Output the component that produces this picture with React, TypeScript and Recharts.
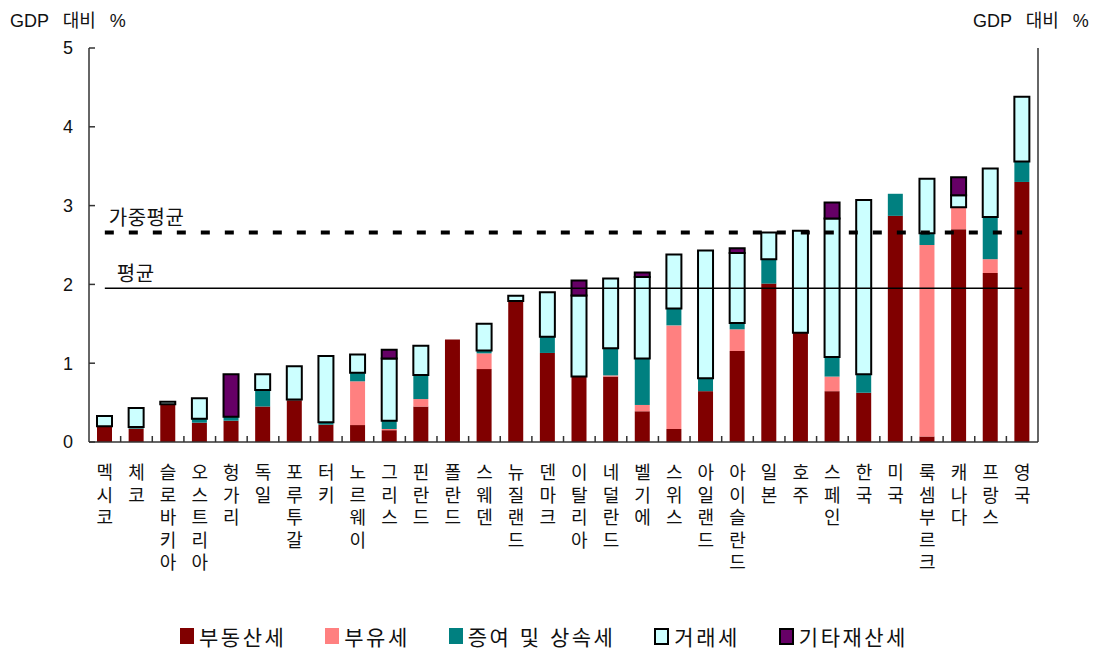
import { Bar, BarChart, Legend, ReferenceLine, XAxis, YAxis } from "recharts";

const countries = [
  "멕시코", "체코", "슬로바키아", "오스트리아", "헝가리", "독일", "포루투갈", "터키",
  "노르웨이", "그리스", "핀란드", "폴란드", "스웨덴", "뉴질랜드", "덴마크", "이탈리아",
  "네덜란드", "벨기에", "스위스", "아일랜드", "아이슬란드", "일본", "호주", "스페인",
  "한국", "미국", "룩셈부르크", "캐나다", "프랑스", "영국",
];

// 부동산세
const realEstate = [
  0.2, 0.17, 0.48, 0.245, 0.27, 0.45, 0.53, 0.22, 0.215, 0.15, 0.45, 1.3, 0.925, 1.79, 1.13,
  0.83, 0.83, 0.39, 0.165, 0.645, 1.155, 2.01, 1.385, 0.645, 0.625, 2.87, 0.07, 2.7, 2.145, 3.3,
];
// 부유세
const netWealth = [
  0, 0, 0, 0, 0, 0, 0, 0, 0.555, 0.015, 0.095, 0, 0.2, 0, 0,
  0, 0.015, 0.08, 1.315, 0, 0.275, 0, 0, 0.185, 0, 0, 2.43, 0.28, 0.175, 0,
];
// 증여 및 상속세
const inheritance = [
  0, 0.02, 0, 0.05, 0.05, 0.21, 0.01, 0.03, 0.11, 0.105, 0.305, 0, 0.035, 0, 0.205,
  0, 0.345, 0.59, 0.215, 0.165, 0.08, 0.31, 0, 0.25, 0.235, 0.28, 0.15, 0, 0.535, 0.26,
];
// 거래세
const transaction = [
  0.13, 0.24, 0.03, 0.26, 0, 0.2, 0.42, 0.84, 0.23, 0.79, 0.37, 0, 0.34, 0.065, 0.565,
  1.03, 0.885, 1.035, 0.685, 1.62, 0.89, 0.34, 1.295, 1.755, 2.21, 0, 0.69, 0.15, 0.615, 0.82,
];
// 기타재산세
const otherProperty = [
  0, 0, 0, 0, 0.54, 0, 0, 0, 0, 0.11, 0, 0, 0, 0, 0,
  0.19, 0, 0.055, 0, 0, 0.06, 0, 0, 0.205, 0, 0, 0, 0.23, 0, 0,
];

const weightedAvg = 2.66;
const simpleAvg = 1.95;
const yTicks = [0, 1, 2, 3, 4, 5];

const series = [
  { key: "realEstate", name: "부동산세", color: "#800000", outline: false },
  { key: "netWealth", name: "부유세", color: "#ff8080", outline: false },
  { key: "inheritance", name: "증여 및 상속세", color: "#008080", outline: false },
  { key: "transaction", name: "거래세", color: "#ccffff", outline: true },
  { key: "otherProperty", name: "기타재산세", color: "#660066", outline: true },
];

const data = countries.map((c, i) => ({
  country: c,
  realEstate: realEstate[i],
  netWealth: netWealth[i],
  inheritance: inheritance[i],
  transaction: transaction[i],
  otherProperty: otherProperty[i],
}));

const FONT = "'Liberation Sans', 'Noto Sans CJK KR', sans-serif";
const HALF_BAND = 15.8;

function CountryTick(props: any) {
  const { x, y, payload, index } = props;
  const chars = Array.from(String(payload.value));
  return (
    <g>
      {index > 0 && (
        <line x1={x - HALF_BAND} x2={x - HALF_BAND} y1={y} y2={y - 6} stroke="#333" strokeWidth={1.5} />
      )}
      <text x={x} y={y} textAnchor="middle" fontSize={18} fill="#111" fontFamily={FONT}>
        {chars.map((ch, k) => (
          <tspan key={k} x={x} dy={k === 0 ? 37 : 22.5}>
            {ch}
          </tspan>
        ))}
      </text>
    </g>
  );
}

function AvgLabel(props: any) {
  const { viewBox, text, dx } = props;
  return (
    <text x={viewBox.x + dx} y={viewBox.y - 7} fontSize={20} letterSpacing={0.5} fill="#111" fontFamily={FONT}>
      {text}
    </text>
  );
}

function LegendBox() {
  return (
    <div
      style={{
        display: "flex",
        paddingLeft: 151,
        gap: 39,
        fontFamily: FONT,
        fontSize: 21,
        letterSpacing: 2.5,
        color: "#111",
        height: 30,
        alignItems: "center",
      }}
    >
      {series.map((s) => (
        <div key={s.key} style={{ display: "flex", alignItems: "center" }}>
          <span
            style={{
              display: "inline-block",
              width: s.outline ? 11 : 14,
              height: s.outline ? 13 : 16,
              background: s.color,
              border: s.outline ? "2px solid #000" : "none",
              marginRight: 5,
            }}
          />
          {s.name}
        </div>
      ))}
    </div>
  );
}

const unitStyle = {
  position: "absolute" as const,
  top: 6,
  fontFamily: FONT,
  fontSize: 18,
  color: "#111",
  wordSpacing: 9,
};

export default function App() {
  return (
    <div style={{ position: "relative", width: 1112, height: 655, background: "#fff" }}>
      <style>{`body{margin:0}`}</style>
      <div style={{ ...unitStyle, left: 10 }}>GDP 대비 %</div>
      <div style={{ ...unitStyle, left: 973 }}>GDP 대비 %</div>
      <BarChart
        width={1112}
        height={655}
        data={data}
        margin={{ top: 48, right: 14, left: 29, bottom: 4 }}
        barSize={15}
      >
        <XAxis
          dataKey="country"
          interval={0}
          height={179}
          tickLine={false}
          tickSize={0}
          tickMargin={0}
          tick={<CountryTick />}
          stroke="#333"
          strokeWidth={1.5}
        />
        <YAxis
          yAxisId="left"
          domain={[0, 5]}
          ticks={yTicks}
          width={60}
          tickSize={-6}
          tickMargin={22}
          stroke="#333"
          strokeWidth={1.5}
          tick={{ fill: "#111", fontSize: 18, fontFamily: FONT }}
        />
        <YAxis
          yAxisId="right"
          orientation="right"
          domain={[0, 5]}
          ticks={yTicks}
          width={60}
          tickSize={-6}
          tickMargin={24}
          stroke="#333"
          strokeWidth={1.5}
          tick={{ fill: "#111", fontSize: 18, fontFamily: FONT, textAnchor: "start" }}
        />
        {series.map((s) => (
          <Bar
            key={s.key}
            yAxisId="left"
            dataKey={s.key}
            name={s.name}
            stackId="tax"
            fill={s.color}
            stroke={s.outline ? "#000" : "none"}
            strokeWidth={s.outline ? 2 : 0}
            isAnimationActive={false}
          />
        ))}
        <ReferenceLine
          yAxisId="left"
          segment={[
            { x: countries[0], y: weightedAvg },
            { x: countries[countries.length - 1], y: weightedAvg },
          ]}
          stroke="#000"
          strokeWidth={4}
          strokeDasharray="9 15"
          label={<AvgLabel text="가중평균" dx={4} />}
        />
        <ReferenceLine
          yAxisId="left"
          segment={[
            { x: countries[0], y: simpleAvg },
            { x: countries[countries.length - 1], y: simpleAvg },
          ]}
          stroke="#000"
          strokeWidth={1.5}
          label={<AvgLabel text="평균" dx={12} />}
        />
        <Legend verticalAlign="bottom" height={30} content={<LegendBox />} />
      </BarChart>
    </div>
  );
}
